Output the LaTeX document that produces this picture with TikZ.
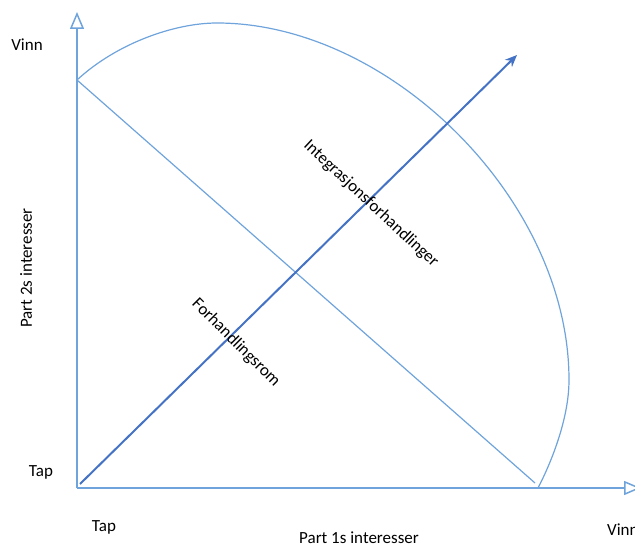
\documentclass[tikz,border=0pt]{standalone}
\usepackage{fontspec}
\setmainfont{Carlito}
\usetikzlibrary{arrows.meta,positioning}
\definecolor{axisblue}{HTML}{6FA3DC}
\definecolor{arrowblue}{HTML}{4472C4}
\begin{document}
\begin{tikzpicture}[x=1pt,y=-1pt,every node/.style={font=\fontsize{17}{20}\selectfont,inner sep=0pt},
  axisline/.style={draw=axisblue,line width=1.5pt,-{Triangle[open,length=17pt,width=14pt]}},
  thinline/.style={draw=axisblue,line width=1.2pt}]
\useasboundingbox (0,0) rectangle (635,548);
\coordinate (O) at (77,488);
\coordinate (ytop) at (77,12);
\coordinate (xtop) at (641,488);
\coordinate (w2) at (77,80);
\coordinate (w1) at (535,483);
\coordinate (peak) at (217,23);
\coordinate (bulge) at (569,380);
\coordinate (foot) at (538,488);
\coordinate (s) at (80,484);
\coordinate (e) at (517,55);
\draw[axisline] (O)--(ytop);
\draw[axisline] (O)--(xtop);
\draw[thinline] (w2)--(w1);
\draw[thinline] (w2) .. controls (117,43) and (175,23) .. (peak)
  .. controls (390,23) and (569,200) .. (bulge)
  .. controls (569,420) and (550,465) .. (foot);
\draw[draw=arrowblue,line width=2pt,-{Stealth[length=12pt,width=10pt]}] (s)--(e);
\node (vinn2) at (27,45) {Vinn};
\node (tap2) at (41,472) {Tap};
\node (tap1) at (104,527) {Tap};
\node[anchor=west] (vinn1) at (607,530) {Vinn};
\node (part1) at (359,538) {Part 1s interesser};
\node[rotate=90] (part2) at (26,268) {Part 2s interesser};
\node[rotate=-45] (rom) at (236,343) {Forhandlingsrom};
\node[rotate=-43] (integ) at (371,204) {Integrasjonsforhandlinger};
\end{tikzpicture}
\end{document}
